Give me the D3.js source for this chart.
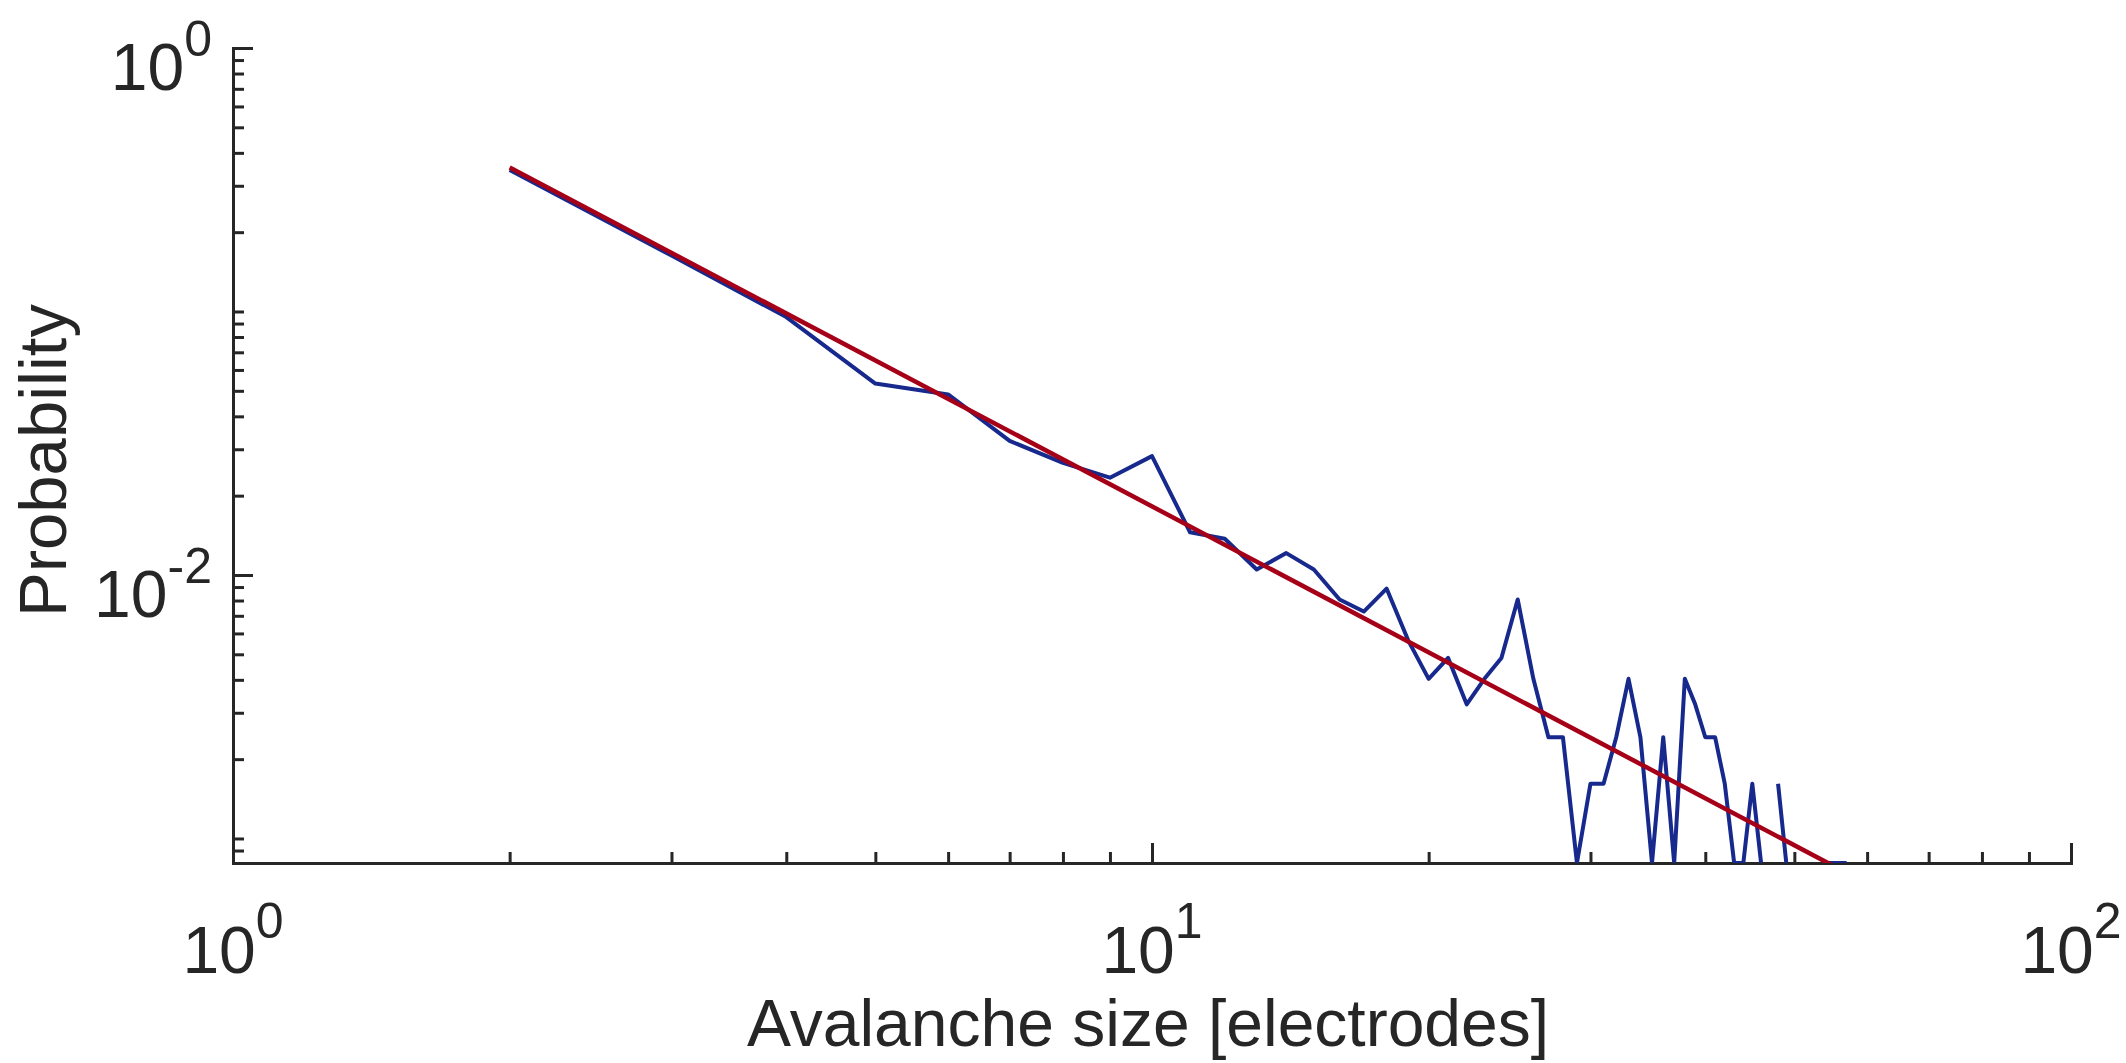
<!DOCTYPE html>
<html>
<head>
<meta charset="utf-8">
<script src="https://cdn.jsdelivr.net/npm/d3@7"></script>
<style>
  html, body { margin: 0; padding: 0; background: #ffffff; }
  svg { display: block; }
  text { font-family: Helvetica, "Liberation Sans", Arial, sans-serif; fill: #262626; }
</style>
</head>
<body>
<svg width="2126" height="1063"></svg>
<script>
// Avalanche sizes (electrodes) and how many avalanches had each size
const sizes  = [2, 3, 4, 5, 6, 7, 8, 9, 10, 11, 12, 13, 14, 15, 16, 17, 18, 19, 20,
                21, 22, 23, 24, 25, 26, 27, 28, 29, 30, 31, 32, 33, 34, 35, 36, 37, 38, 39, 40,
                41, 42, 43, 44, 45, 46, 47, 48, 49, 50, 51, 52, 53, 54, 55, 56, 57]
const counts = [427, 202, 118, 66, 60, 40, 33, 29, 35, 18, 17, 13, 15, 13, 10, 9, 11, 7, 5,
                6, 4, 5, 6, 10, 5, 3, 3, 1, 2, 2, 3, 5, 3, 1, 3, 1, 5, 4, 3,
                3, 2, 1, 1, 2, 1, 0, 2, 1, 0, 0, 0, 0, 1, 1, 1, 1]
const totalCount = 1239

// power-law fit  P(s) = A * s^b
const fitAmplitude = 1.26
const fitExponent = -1.84

// ticks
const xMajorTicks = [1, 10, 100]
const xMajorLabels = [["10", "0"], ["10", "1"], ["10", "2"]]
const xMinorTicks = [2, 3, 4, 5, 6, 7, 8, 9, 20, 30, 40, 50, 60, 70, 80, 90]
const yMajorTicks = [0.01, 1]
const yMajorLabels = [["10", "-2"], ["10", "0"]]
const yMinorTicks = [0.0009, 0.001, 0.002, 0.003, 0.004, 0.005, 0.006, 0.007, 0.008, 0.009,
                     0.02, 0.03, 0.04, 0.05, 0.06, 0.07, 0.08, 0.09, 0.1,
                     0.2, 0.3, 0.4, 0.5, 0.6, 0.7, 0.8, 0.9]

// plot box
const boxLeft = 233
const boxRight = 2071
const boxTop = 48
const boxBottom = 863
const axisColor = "#262626"

const xScale = d3.scaleLog([1, 100], [boxLeft, boxRight])
const yScale = d3.scaleLog([1 / totalCount, 1], [boxBottom, boxTop])

const svg = d3.select("svg")

const data = sizes.map((s, i) => ({size: s, p: counts[i] / totalCount}))

// clip to the axes box like matlab does
svg.append("defs").append("clipPath").attr("id", "box")
  .append("rect")
    .attr("x", boxLeft).attr("y", boxTop - 10)
    .attr("width", boxRight - boxLeft).attr("height", boxBottom - boxTop + 10)

// axes
function styleAxis(g) {
  g.selectAll("path, line").attr("stroke", axisColor).attr("stroke-width", 3)
  g.select(".domain").attr("stroke-linecap", "square")
  g.selectAll("text").remove()
}

svg.append("g")
  .attr("transform", `translate(0, ${boxBottom})`)
  .call(d3.axisBottom(xScale).tickValues(xMinorTicks).tickSize(-11).tickSizeOuter(0).tickFormat(""))
  .call(styleAxis)
svg.append("g")
  .attr("transform", `translate(0, ${boxBottom})`)
  .call(d3.axisBottom(xScale).tickValues(xMajorTicks).tickSize(-20).tickSizeOuter(0).tickFormat(""))
  .call(styleAxis)
svg.append("g")
  .attr("transform", `translate(${boxLeft}, 0)`)
  .call(d3.axisLeft(yScale).tickValues(yMinorTicks).tickSize(-11).tickSizeOuter(0).tickFormat(""))
  .call(styleAxis)
svg.append("g")
  .attr("transform", `translate(${boxLeft}, 0)`)
  .call(d3.axisLeft(yScale).tickValues(yMajorTicks).tickSize(-20).tickSizeOuter(0).tickFormat(""))
  .call(styleAxis)

// tick labels with superscripts
const xLab = svg.append("g").selectAll("text")
  .data(xMajorTicks)
  .join("text")
    .attr("x", d => xScale(d))
    .attr("y", boxBottom + 110)
    .attr("text-anchor", "middle")
    .attr("font-size", 66)
xLab.append("tspan").text((d, i) => xMajorLabels[i][0])
xLab.append("tspan").attr("dy", -35).attr("font-size", 50).text((d, i) => xMajorLabels[i][1])

const yLab = svg.append("g").selectAll("text")
  .data(yMajorTicks)
  .join("text")
    .attr("x", boxLeft - 21)
    .attr("y", d => yScale(d) + 42)
    .attr("text-anchor", "end")
    .attr("font-size", 66)
yLab.append("tspan").text((d, i) => yMajorLabels[i][0])
yLab.append("tspan").attr("dy", -34).attr("font-size", 50).text((d, i) => yMajorLabels[i][1])

// axis titles
svg.append("text")
  .attr("x", (boxLeft + boxRight) / 2 - 4)
  .attr("y", 1046)
  .attr("text-anchor", "middle")
  .attr("font-size", 66)
  .text("Avalanche size [electrodes]")

svg.append("text")
  .attr("transform", `translate(66, ${(boxTop + boxBottom) / 2 + 5}) rotate(-90)`)
  .attr("text-anchor", "middle")
  .attr("font-size", 67)
  .text("Probability")

// data
const plot = svg.append("g").attr("clip-path", "url(#box)")

const line = d3.line()
  .defined(d => d.p > 0)
  .x(d => xScale(d.size))
  .y(d => yScale(d.p))

plot.append("path")
  .datum(data)
  .attr("d", line)
  .attr("fill", "none")
  .attr("stroke", "#17298c")
  .attr("stroke-width", 4)
  .attr("stroke-linejoin", "round")

const fitData = [sizes[0], sizes[sizes.length - 1]].map(s => ({size: s, p: fitAmplitude * Math.pow(s, fitExponent)}))

plot.append("path")
  .datum(fitData)
  .attr("d", line)
  .attr("fill", "none")
  .attr("stroke", "#a50018")
  .attr("stroke-width", 4.5)
</script>
</body>
</html>
